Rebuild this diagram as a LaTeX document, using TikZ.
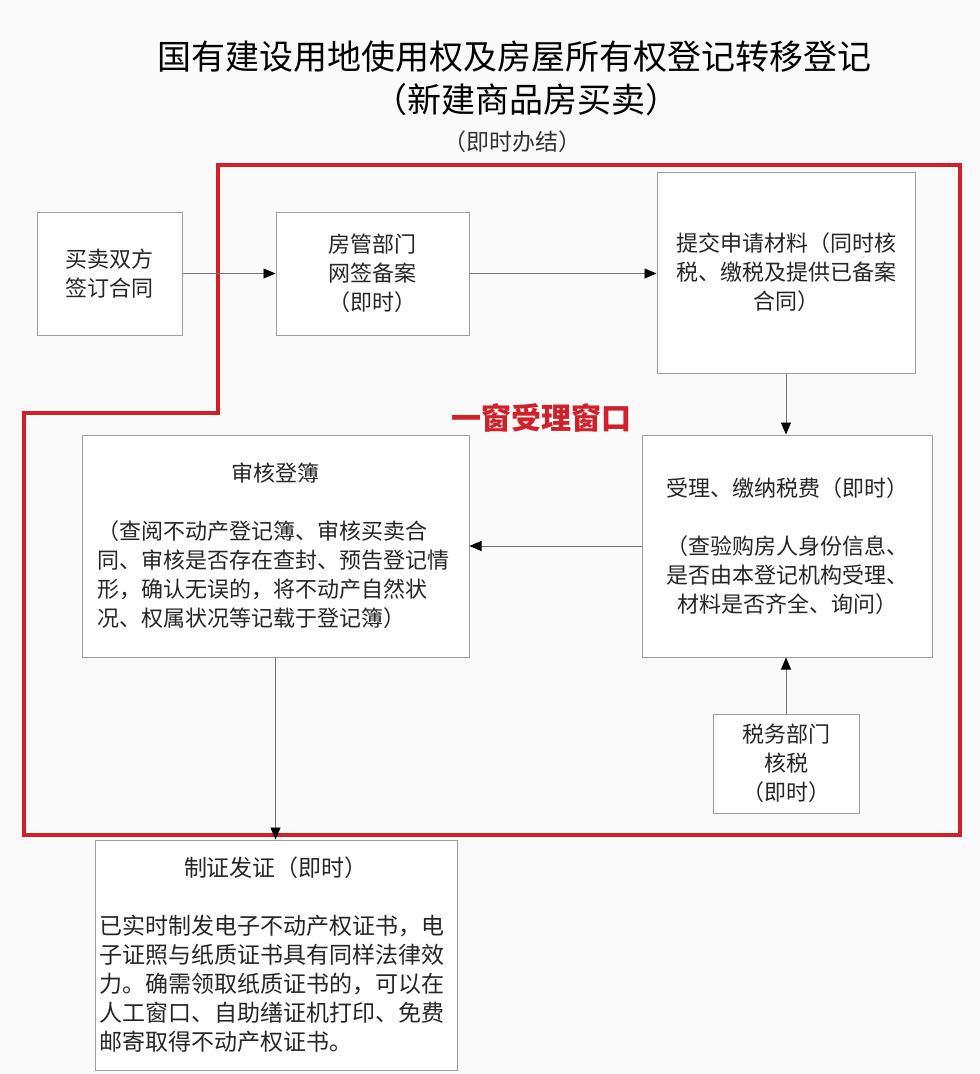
\documentclass[tikz,border=0pt]{standalone}
\usepackage{fontspec}
\newfontfamily\cjk{Noto Sans CJK SC}
\usetikzlibrary{arrows.meta}
\definecolor{framered}{RGB}{208,32,42}
\begin{document}
\begin{tikzpicture}[x=1pt,y=-1pt,
  box/.style={draw=gray!75,line width=1pt,fill=white,inner sep=0pt,text=black!85,
    font=\cjk\fontsize{22}{29}\selectfont},
  flow/.style={draw=black!55,line width=0.8pt,-{Triangle[length=12pt,width=10pt,black]}},
  headline/.style={font=\cjk\fontsize{34}{40}\selectfont,text=black}]
\useasboundingbox[fill=gray!4] (0,0) rectangle (980,1074);
% title
\node[headline] (title) at (514,57) {国有建设用地使用权及房屋所有权登记转移登记};
\node[headline] (subtitle) at (526,100) {（新建商品房买卖）};
\node[font=\cjk\fontsize{23}{28}\selectfont,text=black!80] (note) at (512,142) {（即时办结）};
% window frame
\draw[framered,line width=3.5pt,line join=miter]
  (218,165) -- (960,165) -- (960,835) -- (24,835) -- (24,413) -- (218,413) -- cycle;
\node[font=\cjk\bfseries\fontsize{30}{34}\selectfont,text=framered] (window) at (541,418) {一窗受理窗口};
% boxes
\node[box,minimum width=145,minimum height=123,align=center] (contract) at (109.5,273.5)
  {买卖双方\\签订合同};
\node[box,minimum width=193,minimum height=123,align=center] (record) at (372.5,273.5)
  {房管部门\\网签备案\\（即时）};
\node[box,minimum width=258,minimum height=201,align=center] (submit) at (786,272.5)
  {提交申请材料（同时核\\税、缴税及提供已备案\\合同）};
\node[box,minimum width=290,minimum height=222,align=center] (accept) at (787,546)
  {受理、缴纳税费（即时）\\[29pt]（查验购房人身份信息、\\是否由本登记机构受理、\\材料是否齐全、询问）};
\node[box,minimum width=387,minimum height=222,text width=356,align=left] (review) at (275.5,546)
  {\makebox[\linewidth]{审核登簿}\\[29pt]（查阅不动产登记簿、审核买卖合\\同、审核是否存在查封、预告登记情\\形，确认无误的，将不动产自然状\\况、权属状况等记载于登记簿）};
\node[box,minimum width=146,minimum height=99,align=center] (tax) at (786,763.5)
  {税务部门\\核税\\（即时）};
\node[box,minimum width=362,minimum height=230,text width=354,align=left,
  font=\cjk\fontsize{23}{29}\selectfont] (issue) at (276,955)
  {\makebox[\linewidth]{制证发证（即时）}\\[29pt]已实时制发电子不动产权证书，电\\子证照与纸质证书具有同样法律效\\力。确需领取纸质证书的，可以在\\人工窗口、自助缮证机打印、免费\\邮寄取得不动产权证书。};
% connectors
\draw[flow] (contract.east) -- (record.west);
\draw[flow] (record.east) -- (record.east -| submit.west);
\draw[flow] (submit.south) -- (submit.south |- accept.north);
\draw[flow] (accept.west) -- (review.east);
\draw[flow] (tax.north) -- (tax.north |- accept.south);
\draw[flow] (review.south) -- (review.south |- issue.north);
\end{tikzpicture}
\end{document}
